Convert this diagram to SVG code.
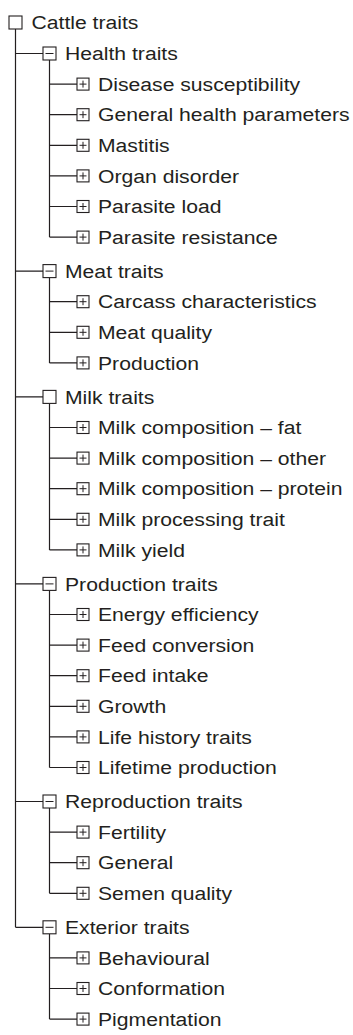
<svg xmlns="http://www.w3.org/2000/svg" width="353" height="1035" viewBox="0 0 353 1035">
<style>
.t{font-family:"Liberation Sans",Arial,Helvetica,sans-serif;font-size:18.4px;fill:#231f20}
.b{fill:#fff;stroke:#231f20;stroke-width:1.1}
.l{fill:none;stroke:#231f20;stroke-width:1.2}
.s{fill:none;stroke:#231f20;stroke-width:1}
</style>
<rect width="353" height="1035" fill="#fff"/>
<defs>
<g id="cat"><rect class="b" x="-6.5" y="-6.5" width="13" height="13"/><path class="s" d="M-4 0H4"/></g>
<g id="emp"><rect class="b" x="-6.5" y="-6.5" width="13" height="13"/></g>
<g id="leaf"><rect class="b" x="-6" y="-6" width="12" height="12"/><path class="s" d="M-3.5 0H3.5M0 -3.5V3.5"/></g>
</defs>
<g id="connectors">
<path class="l" d="M15.5 29V927.3"/>
<path class="l" d="M15.5 53.5H43M15.5 271.1H43M15.5 396.9H43M15.5 583.9H43M15.5 801.5H43M15.5 927.3H43"/>
<path class="l" d="M49.5 60V237.1M49.5 277.6V362.9M49.5 403.4V549.9M49.5 590.4V767.5M49.5 808V893.3M49.5 933.8V1019.1"/>
<path class="l" d="M49.5 84.1H77M49.5 114.7H77M49.5 145.3H77M49.5 175.9H77M49.5 206.5H77M49.5 237.1H77"/>
<path class="l" d="M49.5 301.7H77M49.5 332.3H77M49.5 362.9H77"/>
<path class="l" d="M49.5 427.5H77M49.5 458.1H77M49.5 488.7H77M49.5 519.3H77M49.5 549.9H77"/>
<path class="l" d="M49.5 614.5H77M49.5 645.1H77M49.5 675.7H77M49.5 706.3H77M49.5 736.9H77M49.5 767.5H77"/>
<path class="l" d="M49.5 832.1H77M49.5 862.7H77M49.5 893.3H77"/>
<path class="l" d="M49.5 957.9H77M49.5 988.5H77M49.5 1019.1H77"/>
</g>
<g id="root"><use href="#emp" x="15.5" y="22.5"/><text class="t" transform="translate(31.5 29.1) scale(1.15 1)">Cattle traits</text></g>

<g id="health"><use href="#cat" x="49.5" y="53.5"/><text class="t" transform="translate(65 60.1) scale(1.15 1)">Health traits</text></g>
<g id="disease"><use href="#leaf" x="83" y="84.1"/><text class="t" transform="translate(98 90.7) scale(1.15 1)">Disease susceptibility</text></g>
<g id="general-health"><use href="#leaf" x="83" y="114.7"/><text class="t" transform="translate(98 121.3) scale(1.15 1)">General health parameters</text></g>
<g id="mastitis"><use href="#leaf" x="83" y="145.3"/><text class="t" transform="translate(98 151.9) scale(1.15 1)">Mastitis</text></g>
<g id="organ"><use href="#leaf" x="83" y="175.9"/><text class="t" transform="translate(98 182.5) scale(1.15 1)">Organ disorder</text></g>
<g id="parasite-load"><use href="#leaf" x="83" y="206.5"/><text class="t" transform="translate(98 213.1) scale(1.15 1)">Parasite load</text></g>
<g id="parasite-res"><use href="#leaf" x="83" y="237.1"/><text class="t" transform="translate(98 243.7) scale(1.15 1)">Parasite resistance</text></g>

<g id="meat"><use href="#cat" x="49.5" y="271.1"/><text class="t" transform="translate(65 277.7) scale(1.15 1)">Meat traits</text></g>
<g id="carcass"><use href="#leaf" x="83" y="301.7"/><text class="t" transform="translate(98 308.3) scale(1.15 1)">Carcass characteristics</text></g>
<g id="meat-quality"><use href="#leaf" x="83" y="332.3"/><text class="t" transform="translate(98 338.9) scale(1.15 1)">Meat quality</text></g>
<g id="production"><use href="#leaf" x="83" y="362.9"/><text class="t" transform="translate(98 369.5) scale(1.15 1)">Production</text></g>

<g id="milk"><use href="#emp" x="49.5" y="396.9"/><text class="t" transform="translate(65 403.5) scale(1.15 1)">Milk traits</text></g>
<g id="milk-fat"><use href="#leaf" x="83" y="427.5"/><text class="t" transform="translate(98 434.1) scale(1.15 1)">Milk composition – fat</text></g>
<g id="milk-other"><use href="#leaf" x="83" y="458.1"/><text class="t" transform="translate(98 464.7) scale(1.15 1)">Milk composition – other</text></g>
<g id="milk-protein"><use href="#leaf" x="83" y="488.7"/><text class="t" transform="translate(98 495.3) scale(1.15 1)">Milk composition – protein</text></g>
<g id="milk-processing"><use href="#leaf" x="83" y="519.3"/><text class="t" transform="translate(98 525.9) scale(1.15 1)">Milk processing trait</text></g>
<g id="milk-yield"><use href="#leaf" x="83" y="549.9"/><text class="t" transform="translate(98 556.5) scale(1.15 1)">Milk yield</text></g>

<g id="production-traits"><use href="#cat" x="49.5" y="583.9"/><text class="t" transform="translate(65 590.5) scale(1.15 1)">Production traits</text></g>
<g id="energy"><use href="#leaf" x="83" y="614.5"/><text class="t" transform="translate(98 621.1) scale(1.15 1)">Energy efficiency</text></g>
<g id="feed-conv"><use href="#leaf" x="83" y="645.1"/><text class="t" transform="translate(98 651.7) scale(1.15 1)">Feed conversion</text></g>
<g id="feed-intake"><use href="#leaf" x="83" y="675.7"/><text class="t" transform="translate(98 682.3) scale(1.15 1)">Feed intake</text></g>
<g id="growth"><use href="#leaf" x="83" y="706.3"/><text class="t" transform="translate(98 712.9) scale(1.15 1)">Growth</text></g>
<g id="life-history"><use href="#leaf" x="83" y="736.9"/><text class="t" transform="translate(98 743.5) scale(1.15 1)">Life history traits</text></g>
<g id="lifetime"><use href="#leaf" x="83" y="767.5"/><text class="t" transform="translate(98 774.1) scale(1.15 1)">Lifetime production</text></g>

<g id="reproduction"><use href="#cat" x="49.5" y="801.5"/><text class="t" transform="translate(65 808.1) scale(1.15 1)">Reproduction traits</text></g>
<g id="fertility"><use href="#leaf" x="83" y="832.1"/><text class="t" transform="translate(98 838.7) scale(1.15 1)">Fertility</text></g>
<g id="general"><use href="#leaf" x="83" y="862.7"/><text class="t" transform="translate(98 869.3) scale(1.15 1)">General</text></g>
<g id="semen"><use href="#leaf" x="83" y="893.3"/><text class="t" transform="translate(98 899.9) scale(1.15 1)">Semen quality</text></g>

<g id="exterior"><use href="#cat" x="49.5" y="927.3"/><text class="t" transform="translate(65 933.9) scale(1.15 1)">Exterior traits</text></g>
<g id="behavioural"><use href="#leaf" x="83" y="957.9"/><text class="t" transform="translate(98 964.5) scale(1.15 1)">Behavioural</text></g>
<g id="conformation"><use href="#leaf" x="83" y="988.5"/><text class="t" transform="translate(98 995.1) scale(1.15 1)">Conformation</text></g>
<g id="pigmentation"><use href="#leaf" x="83" y="1019.1"/><text class="t" transform="translate(98 1025.7) scale(1.15 1)">Pigmentation</text></g>
</svg>
